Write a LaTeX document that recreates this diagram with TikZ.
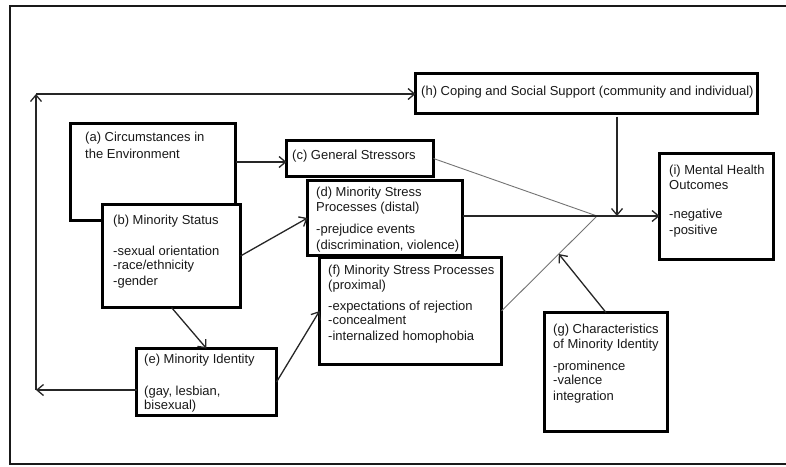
\documentclass[tikz,border=0pt]{standalone}
\usepackage{fontspec}
\setmainfont{Liberation Sans}
\usetikzlibrary{arrows.meta,calc}
\begin{document}
\begin{tikzpicture}[x=1pt,y=-1pt,
  box/.style={draw=black, line width=2.8pt, fill=white, rectangle, inner sep=0pt, outer sep=0pt, anchor=north west},
  txt/.style={anchor=north west, inner sep=0pt, align=left, font=\fontsize{13}{15}\selectfont, text=black!90},
  arr/.style={line width=1.3pt, draw=black!85, -{Straight Barb[length=6.5pt,width=11pt,line width=1.3pt]}},
  dark/.style={line width=1.3pt, draw=black!85},
  thin/.style={line width=0.9pt, draw=black!55}]
\useasboundingbox (0,0) rectangle (786,466);
\draw[line width=2pt, black!90] (786,6) -- (10,6) -- (10,464) -- (786,464);

% boxes
\node[box, minimum width=165pt, minimum height=97pt] (a) at (70.5,123.5) {};
\node[txt] (ta) at (85,132) {(a) Circumstances in\\[2pt]the Environment};
\node[box, minimum width=138pt, minimum height=103pt] (b) at (102.5,204.5) {};
\node[txt] (tb) at (113,215) {(b) Minority Status\\[16pt]-sexual orientation\\[-1pt]-race/ethnicity\\[1pt]-gender};
\node[box, minimum width=147pt, minimum height=36pt] (c) at (286.5,140.5) {};
\node[txt] (tc) at (292,150) {(c) General Stressors};
\node[box, minimum width=155pt, minimum height=75pt] (d) at (307.5,180.5) {};
\node[txt] (td) at (316,187) {(d) Minority Stress\\Processes (distal)\\[7pt]-prejudice events\\[1pt](discrimination, violence)};
\node[box, minimum width=182pt, minimum height=107pt] (f) at (319.5,257.5) {};
\node[txt] (tf) at (328,265) {(f) Minority Stress Processes\\(proximal)\\[6pt]-expectations of rejection\\[-1pt]-concealment\\[1pt]-internalized homophobia};
\node[box, minimum width=140pt, minimum height=67pt] (e) at (136.5,348.5) {};
\node[txt] (te) at (144,354) {(e) Minority Identity\\[17pt](gay, lesbian,\\[-1pt]bisexual)};
\node[box, minimum width=123pt, minimum height=119pt] (g) at (544.5,312.5) {};
\node[txt] (tg) at (553,324) {(g) Characteristics\\of Minority Identity\\[7pt]-prominence\\[-1pt]-valence\\[1pt]integration};
\node[box, minimum width=342pt, minimum height=40pt] (h) at (415.5,73.5) {};
\node[txt] (th) at (421,86) {(h) Coping and Social Support (community and individual)};
\node[box, minimum width=114pt, minimum height=106pt] (i) at (659.5,153.5) {};
\node[txt] (ti) at (669,165) {(i) Mental Health\\Outcomes\\[14pt]-negative\\[1pt]-positive};

% coordinates
\coordinate (J) at (597,216);
\coordinate (hd) at (617,216);
\coordinate (eb) at (36,390);
\coordinate (tl) at (36,94);
\coordinate (ac) at ($(a.north east)+(0,38.5)$);
\coordinate (gt) at ($(f.east)!0.6!(J)$);

% connectors
\draw[arr] (ac) -- (c.west |- ac);
\draw[arr] (b.east) -- (d.west);
\draw[arr] (b.south) -- (e.north);
\draw[arr] (e.east) -- (f.west);
\draw[thin] (c.east) -- (J);
\draw[thin] (f.east) -- (J);
\draw[dark] (d.east |- J) -- (J);
\draw[arr] (J) -- (i.west |- J);
\draw[arr, shorten <=3pt] (h.south -| hd) -- (hd);
\draw[arr] (g.north) -- (gt);
\draw[arr] (e.west |- eb) -- (eb);
\draw[arr] (eb) -- (tl);
\draw[arr] (tl) -- (h.west |- tl);
\end{tikzpicture}
\end{document}
